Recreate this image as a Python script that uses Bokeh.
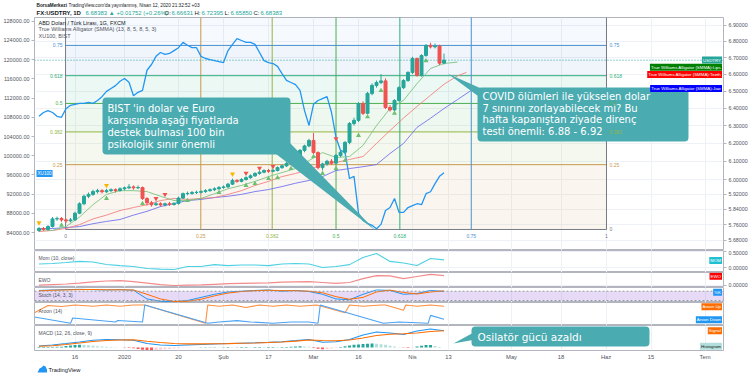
import math
from bokeh.plotting import figure
from bokeh.layouts import column
from bokeh.models import (Range1d, LinearAxis, LinearScale, FixedTicker,
                          PrintfTickFormatter, Label, BoxAnnotation, PolyAnnotation, Span)
from bokeh.core.properties import value
from bokeh.embed import file_html
from bokeh.resources import INLINE

# ---------------- data (bar index 0 = 4 Dec 2019 ... 90 = 10 Apr 2020) ----------------
usd_open = [5.730, 5.740, 5.735, 5.750, 5.790, 5.792, 5.785, 5.780, 5.785, 5.820,
            5.870, 5.910, 5.920, 5.935, 5.940, 5.934, 5.940, 5.945, 5.940, 5.950,
            5.955, 5.960, 5.955, 5.957, 5.898, 5.875, 5.865, 5.870, 5.864, 5.870,
            5.866, 5.872, 5.900, 5.924, 5.925, 5.930, 5.931, 5.935, 5.940, 5.945,
            5.950, 5.957, 5.960, 5.975, 5.995, 5.990, 6.000, 6.010, 6.020, 6.033,
            6.040, 6.049, 6.045, 6.049, 6.065, 6.075, 6.088, 6.100, 6.121, 6.160,
            6.185, 6.216, 6.148, 6.065, 6.085, 6.100, 6.090, 6.132, 6.150, 6.205,
            6.312, 6.330, 6.427, 6.370, 6.486, 6.533, 6.550, 6.560, 6.404, 6.390,
            6.445, 6.520, 6.562, 6.610, 6.694, 6.592, 6.712, 6.774, 6.765, 6.770,
            6.66631]
usd_high = [5.748, 5.748, 5.758, 5.800, 5.802, 5.800, 5.792, 5.795, 5.828, 5.878,
            5.918, 5.930, 5.945, 5.950, 5.948, 5.950, 5.952, 5.952, 5.958, 5.962,
            5.975, 5.968, 5.968, 5.962, 5.905, 5.885, 5.880, 5.878, 5.876, 5.880,
            5.878, 5.908, 5.930, 5.935, 5.938, 5.940, 5.942, 5.948, 5.952, 5.958,
            5.965, 5.968, 5.982, 6.005, 6.002, 6.008, 6.018, 6.028, 6.040, 6.048,
            6.056, 6.058, 6.058, 6.072, 6.082, 6.095, 6.108, 6.130, 6.168, 6.192,
            6.225, 6.258, 6.155, 6.092, 6.108, 6.112, 6.140, 6.160, 6.212, 6.320,
            6.345, 6.435, 6.440, 6.495, 6.545, 6.562, 6.600, 6.575, 6.418, 6.452,
            6.528, 6.570, 6.618, 6.705, 6.700, 6.720, 6.782, 6.790, 6.785, 6.778,
            6.72395]
usd_low = [5.722, 5.728, 5.730, 5.745, 5.780, 5.775, 5.770, 5.772, 5.780, 5.815,
           5.862, 5.900, 5.912, 5.925, 5.925, 5.928, 5.932, 5.930, 5.935, 5.942,
           5.948, 5.945, 5.948, 5.890, 5.860, 5.855, 5.858, 5.855, 5.856, 5.858,
           5.860, 5.865, 5.895, 5.915, 5.918, 5.922, 5.925, 5.928, 5.934, 5.938,
           5.944, 5.950, 5.955, 5.970, 5.982, 5.985, 5.994, 6.004, 6.014, 6.026,
           6.034, 6.036, 6.040, 6.044, 6.058, 6.068, 6.080, 6.094, 6.115, 6.150,
           6.178, 6.140, 6.055, 6.050, 6.075, 6.080, 6.082, 6.122, 6.140, 6.195,
           6.300, 6.320, 6.360, 6.365, 6.475, 6.520, 6.540, 6.395, 6.380, 6.380,
           6.438, 6.512, 6.555, 6.600, 6.585, 6.585, 6.705, 6.755, 6.755, 6.655,
           6.65850]
usd_close = [5.740, 5.735, 5.750, 5.790, 5.792, 5.785, 5.780, 5.785, 5.820, 5.870,
             5.910, 5.920, 5.935, 5.940, 5.934, 5.940, 5.945, 5.940, 5.950, 5.955,
             5.960, 5.955, 5.957, 5.898, 5.875, 5.865, 5.870, 5.864, 5.870, 5.866,
             5.872, 5.900, 5.924, 5.925, 5.930, 5.931, 5.935, 5.940, 5.945, 5.950,
             5.957, 5.960, 5.975, 5.995, 5.990, 6.000, 6.010, 6.020, 6.033, 6.040,
             6.049, 6.045, 6.049, 6.065, 6.075, 6.088, 6.100, 6.121, 6.160, 6.185,
             6.216, 6.148, 6.065, 6.085, 6.100, 6.090, 6.132, 6.150, 6.205, 6.312,
             6.330, 6.427, 6.370, 6.486, 6.533, 6.550, 6.560, 6.404, 6.390, 6.445,
             6.520, 6.562, 6.610, 6.694, 6.592, 6.712, 6.774, 6.765, 6.770, 6.666,
             6.68383]

xu100 = [108200, 109000, 109400, 109000, 108200, 108000, 109800, 110500, 110700, 110900,
         110900, 111100, 110900, 111500, 112300, 113400, 114000, 114600, 115500, 116100,
         115300, 112500, 113200, 113600, 117800, 119000, 120700, 121500, 121100, 121300,
         121900, 122500, 123600, 123000, 122500, 122500, 120700, 120250, 120000, 119800,
         119600, 119400, 121900, 123200, 124400, 124000, 123600, 123600, 123200, 121500,
         119800, 119400, 119200, 118600, 117100, 115700, 115250, 114800, 113600, 109400,
         106300, 110700, 111500, 111900, 112300, 109000, 103800, 101100, 100700, 95250,
         95700, 88000, 86500, 85900, 85500, 84800, 85700, 88600, 89200, 91100,
         88200, 88200, 89200, 89600, 90000, 89800, 92100, 92500, 94200, 95700,
         96470.97]

lips_idx = list(range(0, 94, 3))
lips = [5.735, 5.730, 5.750, 5.800, 5.865, 5.920, 5.940, 5.940, 5.935, 5.910, 5.887,
        5.887, 5.898, 5.924, 5.950, 5.968, 5.990, 6.016, 6.038, 6.060, 6.104, 6.148,
        6.121, 6.126, 6.188, 6.300, 6.398, 6.445, 6.544, 6.634, 6.664, 6.6723]
teeth_idx = list(range(0, 94, 3)) + [95]
teeth = [5.724, 5.730, 5.740, 5.760, 5.790, 5.810, 5.834, 5.850, 5.865, 5.887, 5.898,
         5.893, 5.898, 5.903, 5.920, 5.940, 5.968, 5.990, 6.016, 6.033, 6.054, 6.082,
         6.093, 6.110, 6.126, 6.199, 6.272, 6.343, 6.410, 6.475, 6.540, 6.590, 6.61088]
jaw_idx = list(range(0, 97, 3)) + [98]
jaw = [5.740, 5.740, 5.745, 5.750, 5.765, 5.777, 5.787, 5.810, 5.830, 5.855, 5.871,
       5.887, 5.893, 5.903, 5.910, 5.920, 5.935, 5.946, 5.962, 5.980, 5.995, 6.016,
       6.049, 6.060, 6.070, 6.082, 6.143, 6.199, 6.290, 6.342, 6.398, 6.450, 6.503, 6.51645]

frac_up_idx = [5, 15, 23, 33, 40, 46, 48, 51, 53, 56, 58, 61, 63, 66, 68, 71, 73, 76, 79, 86]
frac_up_price = [5.757, 5.898, 5.871, 5.887, 5.930, 5.968, 5.978, 6.005, 6.010, 6.060,
                 6.088, 6.126, 6.033, 6.060, 6.104, 6.244, 6.350, 6.503, 6.370, 6.680]
frac_dn_y_idx = [0, 15, 43]
frac_dn_y_price = [5.770, 5.968, 6.030]
frac_dn_r_idx = [26, 28, 46, 49, 52, 66]
frac_dn_r_price = [5.898, 5.920, 6.035, 6.062, 6.072, 6.226]

fib_levels = [0, 0.25, 0.382, 0.5, 0.618, 0.75, 1]
fib_t0, fib_t1 = 5.9, 126.1          # bar index anchors
fib_p0, fib_p1 = 5.735, 7.12          # price anchors

sub_idx = list(range(0, 91, 3))
mom_vals = [0.11, 0.125, 0.156, 0.19, 0.17, 0.094, 0.06, 0.03, -0.03, -0.05, -0.06,
            0.03, 0.03, 0.09, 0.06, 0.08, 0.08, 0.06, 0.11, 0.125, 0.11, 0.0, 0.03,
            0.09, 0.31, 0.44, 0.19, 0.14, 0.06, 0.28, 0.23688]
ewo_vals = [0.01, 0.03, 0.05, 0.08, 0.12, 0.15, 0.16, 0.13, 0.08, 0.03, 0.0, 0.01,
            0.02, 0.04, 0.06, 0.07, 0.08, 0.09, 0.11, 0.12, 0.13, 0.10, 0.07, 0.10,
            0.23, 0.33, 0.32, 0.23, 0.30, 0.37, 0.328]
stoch_k = [85, 88, 90, 92, 90, 88, 90, 86, 30, 15, 12, 20, 40, 60, 75, 80, 85, 88,
           80, 85, 78, 60, 30, 25, 60, 88, 85, 60, 65, 85, 78.66]
stoch_d = [82, 86, 88, 90, 91, 89, 89, 88, 60, 30, 14, 15, 28, 50, 68, 78, 83, 86,
           84, 83, 80, 70, 45, 28, 40, 75, 87, 72, 62, 75, 82]
aroon_up_idx = [-1, 2, 5, 8, 12, 15, 18, 21, 23.5, 37, 37.5, 40, 43, 46, 49, 52, 55, 58,
                61.7, 68, 69, 72, 76, 77, 81, 81.5, 84, 87, 90]
aroon_up = [57, 97, 92, 100, 93, 100, 93, 100, 100, 0, 100, 93, 100, 86, 100, 93, 100, 93,
            100, 57, 100, 93, 100, 100, 71, 100, 93, 100, 92.86]
aroon_dn_idx = [-1, 7, 7.5, 17, 17.5, 23, 23.5, 37.5, 40, 44, 47, 52, 56, 60, 62, 62.5,
                76.5, 80, 86.5, 87, 90]
aroon_dn = [34, 0, 29, 7, 15, 7, 100, 0, 7, 14, 7, 0, 7, 7, 0, 100, 0, 7, 0, 43, 21.43]
macd_line = [0.0125, 0.021, 0.033, 0.046, 0.06, 0.067, 0.065, 0.06, 0.033, 0.021, 0.017,
             0.021, 0.025, 0.029, 0.033, 0.036, 0.039, 0.043, 0.048, 0.057, 0.067, 0.044,
             0.0475, 0.067, 0.104, 0.129, 0.121, 0.108, 0.1375, 0.154, 0.1402]
macd_signal = [0.01, 0.015, 0.025, 0.037, 0.05, 0.058, 0.0625, 0.064, 0.052, 0.042, 0.033,
               0.03, 0.03, 0.031, 0.032, 0.035, 0.0375, 0.042, 0.046, 0.053, 0.062, 0.058,
               0.056, 0.0625, 0.079, 0.10, 0.11, 0.114, 0.121, 0.133, 0.13932]
macd_hist = [0.004, 0.004, 0.005, 0.005, 0.006, 0.006,
             0.012, 0.016, 0.02, 0.022, 0.02, 0.018, 0.015,
             0.01, 0.008, 0.006, 0.004, 0.002,
             0.001, -0.002, -0.004, -0.006,
             -0.012, -0.018, -0.02, -0.022, -0.02, -0.018, -0.015, -0.012,
             -0.008, -0.005, -0.003, -0.002, -0.001, 0.001,
             0.002, 0.002, 0.003, 0.003, 0.002, 0.003, 0.004, 0.003, 0.003, 0.004,
             0.004, 0.003, 0.004, 0.005, 0.004, 0.004, 0.005, 0.004, 0.005, 0.005,
             0.006, 0.008, 0.01, 0.008, 0.006,
             -0.004, -0.01, -0.014, -0.012, -0.008, -0.004,
             0.004, 0.01, 0.016, 0.022, 0.026, 0.03, 0.032, 0.033, 0.032, 0.028, 0.022, 0.015, 0.008,
             0.002, -0.002, -0.004, -0.002,
             0.008, 0.014, 0.02, 0.02, 0.012,
             0.005, 0.0009]

date_ticks = [8, 19, 31, 41, 51, 61, 71, 83, 91, 105, 116, 126, 136, 148]
date_labels = ["16", "2020", "20", "Şub", "17", "Mar", "16", "Nis", "13", "May", "18", "Haz", "15", "Tem"]
price_ticks = [5.68, 5.76, 5.84, 5.92, 6.0, 6.1, 6.2, 6.3, 6.4, 6.5, 6.6, 6.7, 6.8, 6.9]
xu_ticks = list(range(84000, 128001, 4000))

# ---------------- layout constants ----------------
FW = 689
ML, MR = 33, 28
X_LO, X_HI = -1.0, 152.1
P_LO, P_HI = 5.627, 6.947
XU_LO, XU_HI = 80257, 128790
FONT = "Liberation Sans"
CFONT = "DejaVu Sans"
TEAL = "#4aabb1"
GRID = "#eef1f6"
AXC = "#50535e"


def ix(px):
    return X_LO + (px - 33.0) * (X_HI - X_LO) / FW


def pr(py):
    a, b = math.log(P_HI), math.log(P_LO)
    return math.exp(a - (py - 17.0) * (a - b) / 233.0)


def yv(py, top, h, lo, hi):
    return hi - (py - top) * (hi - lo) / h


def base_fig(h, lo, hi, y_type="linear", xaxis=False):
    f = figure(frame_width=FW, frame_height=h, x_range=Range1d(X_LO, X_HI),
               y_range=Range1d(lo, hi), y_axis_type=y_type, y_axis_location="right",
               x_axis_location="below" if xaxis else None, toolbar_location=None,
               output_backend="svg", min_border_left=ML, min_border_right=MR,
               min_border_top=0, min_border_bottom=12 if xaxis else 0)
    f.outline_line_color = "#b2b5be"
    f.outline_line_width = 1
    f.background_fill_color = "white"
    f.border_fill_color = "white"
    f.xgrid.ticker = FixedTicker(ticks=date_ticks)
    f.xgrid.grid_line_color = GRID
    f.ygrid.grid_line_color = GRID
    ax = f.yaxis[0]
    ax.axis_line_color = None
    ax.major_tick_line_color = "#b2b5be"
    ax.major_tick_out = 3
    ax.major_tick_in = 0
    ax.minor_tick_line_color = None
    ax.major_label_text_font_size = "5.3px"
    ax.major_label_text_color = AXC
    ax.major_label_text_font = FONT
    ax.major_label_standoff = 2
    return f


def tag(fig, x, y, text, bg, align="left", color="white", size="4.4px"):
    fig.add_layout(Label(x=x, y=y, text=text, text_align=align, text_baseline="middle",
                         text_font=FONT, text_font_size=size, text_color=color,
                         background_fill_color=bg, background_fill_alpha=1.0, padding=1))


def note(fig, x, y, text, color=AXC, size="5px", align="left", font=FONT, style="normal"):
    fig.add_layout(Label(x=x, y=y, text=text, text_align=align, text_baseline="middle",
                         text_font=font, text_font_size=size, text_color=color,
                         text_font_style=style))


def pair(fig, y, name, val, bg, color="white"):
    tag(fig, ix(720.5), y, name, bg, align="right", color=color)
    tag(fig, ix(723.5), y, val, bg, align="left", color=color)


# ---------------- header ----------------
hdr = figure(frame_width=750, frame_height=17, x_range=Range1d(0, 750), y_range=Range1d(17, 0),
             x_axis_location=None, y_axis_location=None, toolbar_location=None,
             output_backend="svg", min_border_left=0, min_border_right=0,
             min_border_top=0, min_border_bottom=0, outline_line_color=None)
hdr.xgrid.visible = False
hdr.ygrid.visible = False
hdr_items = [
    (2, 5, "BorsaMerkezi", "#131722", "bold", "4.7px"),
    (34, 5, "TradingView.com'da yayınlanmış, Nisan 12, 2020 21:32:52 +03", "#131722", "normal", "4.7px"),
    (2, 12.7, "FX:USDTRY, 1D", "#131722", "bold", "6px"),
    (51, 12.7, "6.68383 ▲ +0.01752 (+0.26%)", "#26a69a", "normal", "6px"),
    (130, 12.7, "O:", "#131722", "normal", "6px"),
    (137, 12.7, "6.66631", "#26a69a", "normal", "6px"),
    (160, 12.7, "H:", "#131722", "normal", "6px"),
    (167, 12.7, "6.72395", "#26a69a", "normal", "6px"),
    (190, 12.7, "L:", "#131722", "normal", "6px"),
    (196, 12.7, "6.65850", "#26a69a", "normal", "6px"),
    (219, 12.7, "C:", "#131722", "normal", "6px"),
    (226, 12.7, "6.68383", "#26a69a", "normal", "6px"),
]
for hx, hy, ht, hc, hs, hz in hdr_items:
    hdr.text(x=[hx], y=[hy], text=[ht], text_font=value(FONT), text_font_size=hz,
             text_font_style=hs, text_color=hc, text_baseline="middle")

# ---------------- main price panel ----------------
p = base_fig(233, P_LO, P_HI, y_type="log")
p.yaxis[0].ticker = FixedTicker(ticks=price_ticks)
p.ygrid.ticker = FixedTicker(ticks=price_ticks)
p.yaxis[0].formatter = PrintfTickFormatter(format="%.5f")
p.extra_y_ranges = {"xu": Range1d(XU_LO, XU_HI)}
p.extra_y_scales = {"xu": LinearScale()}
xu_axis = LinearAxis(y_range_name="xu", ticker=FixedTicker(ticks=xu_ticks),
                     formatter=PrintfTickFormatter(format="%.2f"))
xu_axis.axis_line_color = None
xu_axis.major_tick_line_color = "#b2b5be"
xu_axis.major_tick_out = 3
xu_axis.major_tick_in = 0
xu_axis.minor_tick_line_color = None
xu_axis.major_label_text_font_size = "5.5px"
xu_axis.major_label_text_color = AXC
xu_axis.major_label_text_font = FONT
xu_axis.major_label_standoff = 2
p.add_layout(xu_axis, "left")

fib_colors = ["#787b86", "#c89a4b", "#93b545", "#4caf50", "#2fae7a", "#4a90d0", "#787b86"]
fib_fill = ["#c89a4b", "#93b545", "#4caf50", "#2fae7a", "#4a90d0", "#4a90d0"]
lvl_price = [fib_p0 + f * (fib_p1 - fib_p0) for f in fib_levels]
for k in range(len(fib_levels) - 1):
    p.quad(left=[fib_t0], right=[fib_t1], bottom=[lvl_price[k]], top=[lvl_price[k + 1]],
           fill_color=fib_fill[k], fill_alpha=0.09 if k < 5 else 0.05, line_color=None)
for k, f in enumerate(fib_levels):
    p.segment(x0=[fib_t0], y0=[lvl_price[k]], x1=[fib_t1], y1=[lvl_price[k]],
              line_color=fib_colors[k], line_width=1)
    tx = fib_t0 + f * (fib_t1 - fib_t0)
    p.segment(x0=[tx], y0=[lvl_price[0]], x1=[tx], y1=[lvl_price[-1]],
              line_color=fib_colors[k], line_width=1)

bars = list(range(len(usd_close)))
p.line(bars, xu100, y_range_name="xu", line_color="#2196f3", line_width=1.3)
p.line(jaw_idx, jaw, line_color="#6c6cf0", line_width=1, line_alpha=0.85)
p.line(teeth_idx, teeth, line_color="#f27c7c", line_width=1, line_alpha=0.85)
p.line(lips_idx, lips, line_color="#7cc47f", line_width=1, line_alpha=0.9)

cols = ["#26a69a" if c >= o else "#ef5350" for o, c in zip(usd_open, usd_close)]
p.segment(x0=bars, y0=usd_high, x1=bars, y1=usd_low, line_color=cols, line_width=1)
p.vbar(x=bars, width=0.66, top=[max(o, c) for o, c in zip(usd_open, usd_close)],
       bottom=[min(o, c) for o, c in zip(usd_open, usd_close)], fill_color=cols, line_color=cols)

p.scatter(frac_up_idx, frac_up_price, marker="triangle", size=5, fill_color="#6cc070", line_color=None)
p.scatter(frac_dn_y_idx, frac_dn_y_price, marker="inverted_triangle", size=5, fill_color="#f5b700", line_color=None)
p.scatter(frac_dn_r_idx, frac_dn_r_price, marker="inverted_triangle", size=5, fill_color="#ef5350", line_color=None)

p.add_layout(Span(location=usd_close[-1], dimension="width", line_color="#26a69a",
                  line_dash="1 2", line_width=1))

# callout 1 (BIST)
p.add_layout(PolyAnnotation(xs=[ix(270), ix(287), ix(374)], ys=[pr(150), pr(141), pr(230)],
                            fill_color=TEAL, fill_alpha=1.0, line_color=None))
p.add_layout(BoxAnnotation(left=ix(101), right=ix(289), top=pr(97), bottom=pr(154),
                           fill_color=TEAL, fill_alpha=1.0, line_color=None, border_radius=4))
for ty, tt in zip([107.5, 119.5, 131.5, 143.5],
                  ["BIST 'in dolar ve Euro", "karşısında aşağı fiyatlarda",
                   "destek bulması 100 bin", "psikolojik sınır önemli"]):
    note(p, ix(106), pr(ty), tt, color="white", size="10px", font=CFONT)

# callout 2 (COVID)
p.add_layout(PolyAnnotation(xs=[ix(446), ix(484), ix(484)], ys=[pr(73), pr(90), pr(101)],
                            fill_color=TEAL, fill_alpha=1.0, line_color=None))
p.add_layout(BoxAnnotation(left=ix(476), right=ix(687), top=pr(87), bottom=pr(141),
                           fill_color=TEAL, fill_alpha=1.0, line_color=None, border_radius=4))
for ty, tt in zip([96, 107.5, 119, 130.5],
                  ["COVID ölümleri ile yükselen dolar", "7 sınırını zorlayabilecek mi? Bu",
                   "hafta kapanıştan ziyade direnç", "testi önemli: 6.88 - 6.92"]):
    note(p, ix(481), pr(ty), tt, color="white", size="10px", font=CFONT)

# fib labels
for k, f in enumerate(fib_levels):
    txt = f"{f:g}"
    if 0 < k < 6:
        note(p, ix(61), lvl_price[k], txt, color=fib_colors[k], size="5px", align="right")
    if k < 6:
        note(p, ix(608), lvl_price[k], txt, color=fib_colors[k], size="5px")
    tx = fib_t0 + f * (fib_t1 - fib_t0)
    note(p, tx, pr(235), txt, color=fib_colors[k], size="5px", align="center")

# legend
note(p, ix(37), pr(22), "ABD Doları / Türk Lirası, 1G, FXCM", color="#131722", size="5.5px")
note(p, ix(37), pr(28.5), "True Williams Alligator (SMMA) (13, 8, 5, 8, 5, 3)", size="5.5px")
note(p, ix(37), pr(35), "XU100, BIST", size="5.5px")

# price-scale tags
pair(p, pr(59.5), "USDTRY", "6.68383", "#26a69a")
pair(p, pr(66.7), "True Williams Alligator (SMMA):Lips", "6.67230", "#008000")
pair(p, pr(74), "True Williams Alligator (SMMA):Teeth", "6.61088", "#ff0000")
pair(p, pr(88), "True Williams Alligator (SMMA):Jaw", "6.51645", "#0000ff")
tag(p, ix(30), pr(173), "96470.97", "#2196f3", align="right", size="4.6px")
tag(p, ix(35), pr(173), "XU100", "#2196f3", align="left", size="4.6px")

# ---------------- Momentum ----------------
M_LO, M_HI = -0.156, 0.531
mom = base_fig(22, M_LO, M_HI)
mom.yaxis[0].ticker = FixedTicker(ticks=[0.0, 0.5])
mom.yaxis[0].formatter = PrintfTickFormatter(format="%.5f")
mom.line(sub_idx, mom_vals, line_color="#4dd0e1", line_width=1.1)
note(mom, ix(37), yv(257, 250, 22, M_LO, M_HI), "Mom (10, close)")
pair(mom, yv(260, 250, 22, M_LO, M_HI), "MOM", "0.23688", "#22bfd3")

# ---------------- EWO ----------------
E_LO, E_HI = -0.067, 0.433
ewo = base_fig(15, E_LO, E_HI)
ewo.yaxis[0].ticker = FixedTicker(ticks=[0.0])
ewo.yaxis[0].formatter = PrintfTickFormatter(format="%.5f")
ewo.line(sub_idx, ewo_vals, line_color="#f28b8b", line_width=1.2)
note(ewo, ix(37), yv(279, 272, 15, E_LO, E_HI), "EWO")
pair(ewo, yv(275.7, 272, 15, E_LO, E_HI), "EWO", "0.32800", "#ff0000")

# ---------------- Stochastic ----------------
S_LO, S_HI = 7.1, 103.9
sto = base_fig(15, S_LO, S_HI)
sto.yaxis[0].ticker = FixedTicker(ticks=[])
sto.add_layout(BoxAnnotation(bottom=20, top=80, fill_color="#9c6ade", fill_alpha=0.25,
                             line_color=None, level="underlay"))
for lv in (20, 80):
    sto.add_layout(Span(location=lv, dimension="width", line_color="#9598a1",
                        line_dash="2 2", line_width=1))
sto.line(sub_idx, stoch_k, line_color="#2196f3", line_width=1)
sto.line(sub_idx, stoch_d, line_color="#ff6d00", line_width=1)
note(sto, ix(37), yv(294.5, 287, 15, S_LO, S_HI), "Stoch (14, 3, 3)")
pair(sto, yv(291.7, 287, 15, S_LO, S_HI), "%K", "78.66", "#2196f3")

# ---------------- Aroon ----------------
A_LO, A_HI = -12.6, 113.7
aro = base_fig(23, A_LO, A_HI)
aro.yaxis[0].ticker = FixedTicker(ticks=[])
aro.line(aroon_up_idx, aroon_up, line_color="#ff8f40", line_width=1.1)
aro.line(aroon_dn_idx, aroon_dn, line_color="#4aa3f5", line_width=1.1)
note(aro, ix(37), yv(310.3, 302, 23, A_LO, A_HI), "Aroon (14)")
pair(aro, yv(306.3, 302, 23, A_LO, A_HI), "Aroon Up", "92.86%", "#ff6d00")
pair(aro, yv(319.3, 302, 23, A_LO, A_HI), "Aroon Down", "21.43%", "#2196f3")

# ---------------- MACD ----------------
C_LO, C_HI = -0.025, 0.1833
mac = base_fig(25, C_LO, C_HI, xaxis=True)
mac.yaxis[0].ticker = FixedTicker(ticks=[])
xa = mac.xaxis[0]
xa.ticker = FixedTicker(ticks=date_ticks)
xa.major_label_overrides = {t: l for t, l in zip(date_ticks, date_labels)}
xa.axis_line_color = None
xa.major_tick_line_color = None
xa.major_tick_out = 0
xa.major_tick_in = 0
xa.minor_tick_line_color = None
xa.minor_tick_out = 0
xa.major_label_standoff = 3
xa.major_label_text_font_size = "5.8px"
xa.major_label_text_color = AXC
xa.major_label_text_font = FONT

hist_cols = []
prev = 0.0
for hv in macd_hist:
    if hv >= 0:
        hist_cols.append("#26a69a" if hv >= prev else "#b2dfdb")
    else:
        hist_cols.append("#ff5252" if hv <= prev else "#ffcdd2")
    prev = hv
mac.vbar(x=bars, width=0.65, top=macd_hist, bottom=0, fill_color=hist_cols, line_color=None)
mac.line(sub_idx, macd_line, line_color="#2196f3", line_width=1.1)
mac.line(sub_idx, macd_signal, line_color="#ff6d00", line_width=1.1)
note(mac, ix(37), yv(332.7, 325, 25, C_LO, C_HI), "MACD (12, 26, close, 9)")
pair(mac, yv(330.3, 325, 25, C_LO, C_HI), "Signal", "0.13932", "#ff6d00")
pair(mac, yv(345.7, 325, 25, C_LO, C_HI), "Histogram", "0.00090", "#b2dfdb", color="#131722")

mac.add_layout(PolyAnnotation(xs=[ix(452), ix(474), ix(474)],
                              ys=[yv(343, 325, 25, C_LO, C_HI), yv(331, 325, 25, C_LO, C_HI),
                                  yv(339, 325, 25, C_LO, C_HI)],
                              fill_color=TEAL, fill_alpha=1.0, line_color=None))
mac.add_layout(BoxAnnotation(left=ix(470), right=ix(648), top=yv(326, 325, 25, C_LO, C_HI),
                             bottom=yv(346, 325, 25, C_LO, C_HI), fill_color=TEAL,
                             fill_alpha=1.0, line_color=None, border_radius=4))
note(mac, ix(476), yv(336.3, 325, 25, C_LO, C_HI), "Osilatör gücü azaldı",
     color="white", size="10.5px", font=CFONT)
for zx, zt in ((18, "Z"), (736, "A")):
    mac.add_layout(Label(x=ix(zx), y=yv(356.5, 325, 25, C_LO, C_HI), text=zt,
                         text_align="center", text_baseline="middle", text_font=FONT,
                         text_font_size="5px", text_color="#787b86",
                         background_fill_color="#eef0f5", padding=2, border_radius=5))

# ---------------- footer ----------------
ftr = figure(frame_width=750, frame_height=15, x_range=Range1d(0, 750), y_range=Range1d(15, 0),
             x_axis_location=None, y_axis_location=None, toolbar_location=None,
             output_backend="svg", min_border_left=0, min_border_right=0,
             min_border_top=0, min_border_bottom=0, outline_line_color=None)
ftr.xgrid.visible = False
ftr.ygrid.visible = False
ftr.patch([3, 5, 7, 9, 11, 12.5, 12.5, 3], [10, 6, 5, 3, 4, 7, 10, 10], fill_color="#2196f3", line_color=None)
ftr.text(x=[14], y=[7], text=["TradingView"], text_font=value(FONT), text_font_size="5.8px",
         text_color="#131722", text_baseline="middle")

layout = column(hdr, p, mom, ewo, sto, aro, mac, ftr, spacing=0)
open("out.html", "w").write(file_html(layout, INLINE))
